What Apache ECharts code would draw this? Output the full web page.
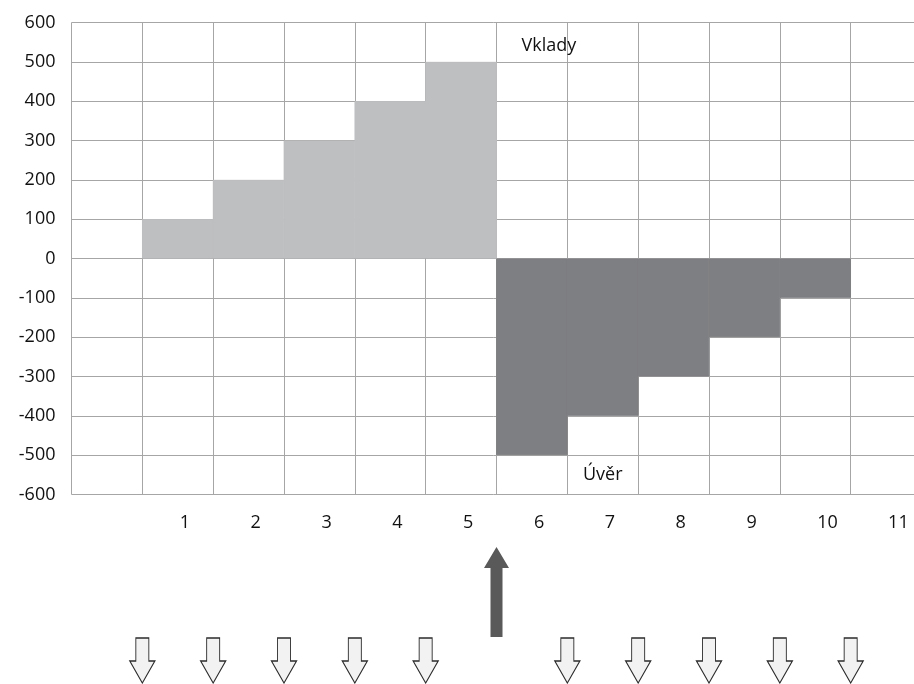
<!DOCTYPE html>
<html>
<head>
<meta charset="utf-8">
<script src="https://cdn.jsdelivr.net/npm/echarts@6/dist/echarts.min.js"></script>
<style>
html,body{margin:0;padding:0;background:#fff;}
#chart{width:914px;height:684px;}
</style>
</head>
<body>
<div id="chart"></div>
<script>
// Data
var categories = ['', '1', '2', '3', '4', '5', '6', '7', '8', '9', '10', '11'];
var vklady = [null, 100, 200, 300, 400, 500, null, null, null, null, null, null];
var uver = [null, null, null, null, null, null, -500, -400, -300, -200, -100, null];
var yTicks = { min: -600, max: 600, step: 100 };
var downArrows = [1, 2, 3, 4, 5, 7, 8, 9, 10, 11];
var upArrows = [6];
var arrowRows = ['down', 'up'];
var labelVklady = 'Vklady';
var labelUver = 'Úvěr';

var FONT = 'Open Sans';
var chart = echarts.init(document.getElementById('chart'), null, { renderer: 'canvas' });

var downPath = 'path://M6,0 L19,0 L19,23 L25,23 L12.5,45 L0,23 L6,23 Z';
var upPath = 'path://M12.5,0 L25,21 L18.5,21 L18.5,90 L6.5,90 L6.5,21 L0,21 Z';

chart.setOption({
  animation: false,
  backgroundColor: '#ffffff',
  grid: [
    { left: 71.5, top: 22.5, width: 850, height: 472, outerBoundsMode: 'none', containLabel: false },
    { left: 71.5, top: 557.75, width: 850, height: 137, outerBoundsMode: 'none', containLabel: false }
  ],
  xAxis: [
    {
      type: 'category', gridIndex: 0, data: categories, boundaryGap: true,
      axisLine: { show: true, lineStyle: { color: '#a6a6a6', width: 1 } },
      axisTick: { show: false },
      splitLine: { show: true, interval: 0, lineStyle: { color: '#a6a6a6', width: 1 } },
      axisLabel: { interval: 0, align: 'left', padding: [0, 0, 0, 2], margin: 19, color: '#111', fontFamily: FONT, fontSize: 18 }
    },
    { type: 'value', gridIndex: 1, min: 0, max: 12, show: false }
  ],
  yAxis: [
    {
      type: 'value', gridIndex: 0, min: yTicks.min, max: yTicks.max, interval: yTicks.step,
      axisLine: { show: false }, axisTick: { show: false },
      splitLine: { show: true, lineStyle: { color: '#a6a6a6', width: 1 } },
      axisLabel: { margin: 16, color: '#111', fontFamily: FONT, fontSize: 18 }
    },
    { type: 'category', gridIndex: 1, data: arrowRows, show: false, boundaryGap: true }
  ],
  series: [
    {
      name: 'Vklady', type: 'bar', xAxisIndex: 0, yAxisIndex: 0, stack: 's',
      data: vklady, barWidth: '101%', barGap: '-100%',
      itemStyle: { color: '#bebfc1', borderColor: '#bebfc1', borderWidth: 1 },
      markPoint: {
        symbol: 'circle', symbolSize: 0,
        data: [{ coord: ['6', 540], value: labelVklady }],
        label: { show: true, position: 'inside', offset: [17, 0], formatter: '{c}', color: '#111', fontFamily: FONT, fontSize: 18 }
      }
    },
    {
      name: 'Úvěr', type: 'bar', xAxisIndex: 0, yAxisIndex: 0, stack: 's',
      data: uver, barWidth: '101%', barGap: '-100%',
      itemStyle: { color: '#7e7f82', borderColor: '#7e7f82', borderWidth: 1 },
      markPoint: {
        symbol: 'circle', symbolSize: 0,
        data: [{ coord: ['7', -550], value: labelUver }],
        label: { show: true, position: 'inside', offset: [0, 0], formatter: '{c}', color: '#111', fontFamily: FONT, fontSize: 18 }
      }
    },
    {
      type: 'scatter', xAxisIndex: 1, yAxisIndex: 1,
      data: downArrows.map(function (x) { return [x, 'down']; }),
      symbol: downPath, symbolSize: [25, 45],
      itemStyle: { color: '#f2f2f2', borderColor: '#2b2b2b', borderWidth: 1.2, opacity: 1 }
    },
    {
      type: 'scatter', xAxisIndex: 1, yAxisIndex: 1,
      data: upArrows.map(function (x) { return [x, 'up']; }),
      symbol: upPath, symbolSize: [25, 90],
      itemStyle: { color: '#595959', opacity: 1 }
    }
  ]
});
</script>
</body>
</html>
